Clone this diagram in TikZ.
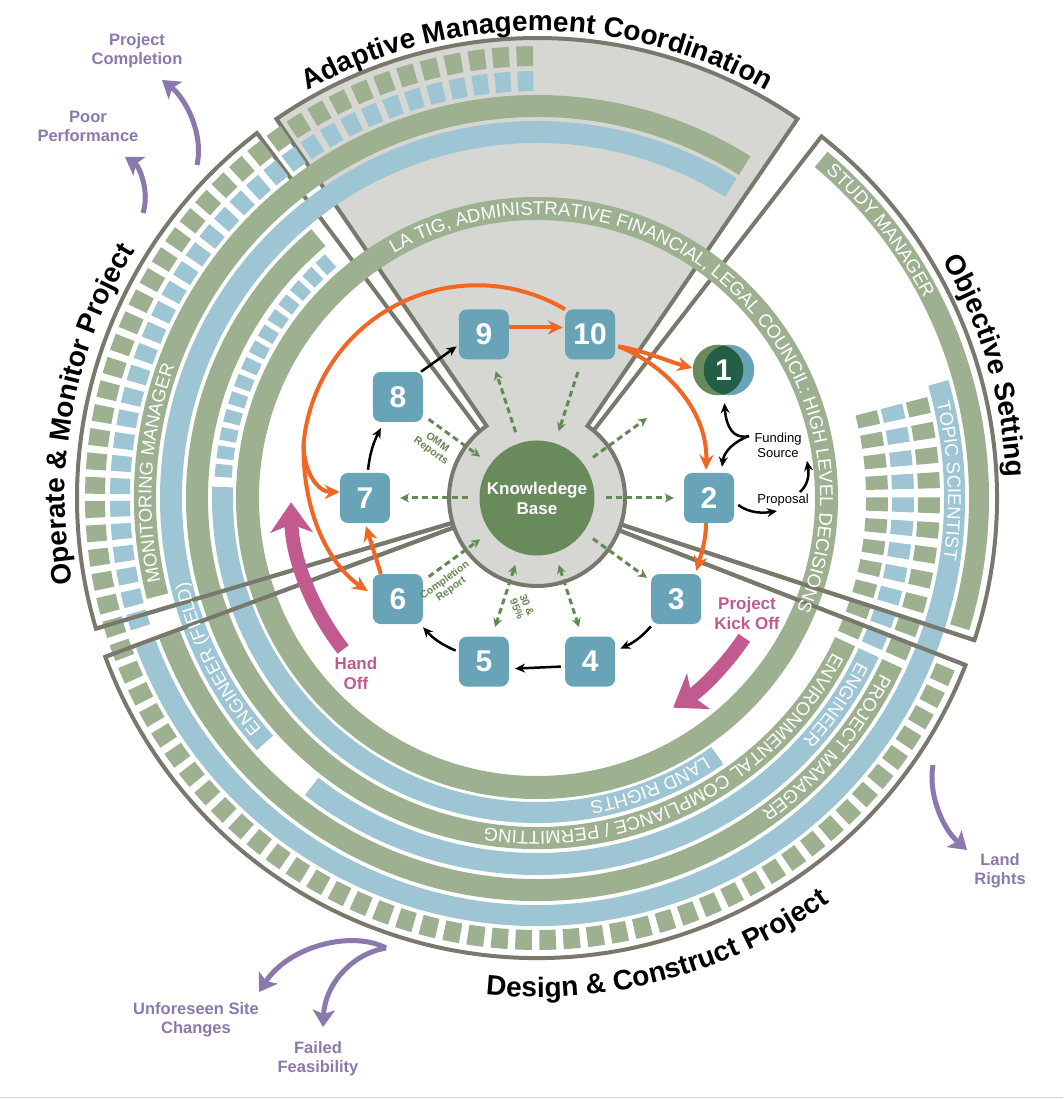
\documentclass[tikz,border=0pt]{standalone}
\usepackage{fontspec}
\setmainfont{Liberation Sans}
\setsansfont{Liberation Sans}
\usetikzlibrary{arrows.meta,decorations.text}
\definecolor{bgreen}{RGB}{157,177,145}
\definecolor{bblue}{RGB}{158,197,211}
\definecolor{hubgray}{RGB}{214,215,210}
\definecolor{bordergray}{RGB}{120,121,108}
\definecolor{nodeblue}{RGB}{104,163,183}
\definecolor{kbgreen}{RGB}{105,138,90}
\definecolor{lensgreen}{RGB}{36,94,70}
\definecolor{orng}{RGB}{242,101,34}
\definecolor{pnk}{RGB}{193,90,142}
\definecolor{prpl}{RGB}{139,121,173}
\definecolor{dgreen}{RGB}{98,138,82}
\newcommand\myband[5]{\fill[#1] (#4:#2) arc[start angle=#4, end angle=#5, radius=#2 pt] -- (#5:#3) arc[start angle=#5, end angle=#4, radius=#3 pt] -- cycle;}
\newcommand\ringtext[5]{\path[decorate, decoration={text along path, text={|\fontsize{18.5}{18.5}\selectfont|#4}, text align=#5, text color=white}] (#2:#1) arc[start angle=#2, end angle=#3, radius=#1 pt];}
\newcommand\titletext[4]{\path[decorate, decoration={text along path, text={|\bfseries\fontsize{28}{28}\selectfont|#4}, text align=center}] (#2:#1) arc[start angle=#2, end angle=#3, radius=#1 pt];}
\tikzset{
 stepnode/.style={rectangle, rounded corners=8pt, fill=nodeblue, minimum width=50pt, minimum height=50pt, inner sep=0pt, text=white, font=\bfseries\fontsize{30}{30}\selectfont},
 secline/.style={draw=bordergray, line width=4pt, line join=miter},
 orarrow/.style={draw=orng, line width=4pt, -{Stealth[length=15pt,width=14pt]}},
 orline/.style={draw=orng, line width=4pt},
 blarrow/.style={draw=black, line width=2.5pt, -{Stealth[length=10pt,width=9pt]}},
 dsharrow/.style={draw=dgreen, line width=3pt, dash pattern=on 6pt off 4pt, -{Stealth[length=9pt,width=9pt]}},
 dsharrowtwo/.style={dsharrow, {Stealth[length=9pt,width=9pt]}-{Stealth[length=9pt,width=9pt]}},
 pkarrow/.style={draw=pnk, line width=14pt, -{Stealth[length=30pt,width=42pt,inset=8pt]}},
 prarrow/.style={draw=prpl, line width=5pt, -{Stealth[length=17pt,width=22pt,inset=4pt]}},
 dlabel/.style={font=\bfseries\fontsize{10.5}{11}\selectfont, text=dgreen, align=center, inner sep=0pt},
 pklabel/.style={font=\bfseries\fontsize{17}{20}\selectfont, text=pnk, align=center, inner sep=0pt},
 prlabel/.style={font=\bfseries\fontsize{16.5}{19}\selectfont, text=prpl, align=center, inner sep=0pt},
 smalllabel/.style={font=\fontsize{13}{15}\selectfont, align=center, inner sep=0pt}
}
\begin{document}
\begin{tikzpicture}[x=1pt,y=1pt]
\useasboundingbox (-537,-601) rectangle (526,498);
\fill[white] (-537,-601) rectangle (526,498);
\draw[gray!35, line width=1.5pt] (-537,-599.5) -- (526,-599.5);
% Adaptive wedge with hub
\path[fill=hubgray, draw=bordergray, line width=4pt, line join=miter]
 (125:88) -- (124.5:460) arc[start angle=124.5, end angle=55.5, radius=460pt] -- (55:88) arc[start angle=55, end angle=-235, radius=88pt] -- cycle;
% other sectors
\draw[secline] (50:88) -- (51.8:460) arc[start angle=51.8, end angle=-18, radius=460pt] -- (-17.5:88);
\draw[secline] (-21.5:88) -- (-21.3:460) arc[start angle=-21.3, end angle=-159.8, radius=460pt] -- (-160.5:88);
\draw[secline] (196.4:88) -- (196.5:460) arc[start angle=196.5, end angle=127.5, radius=460pt] -- (130.5:88);
% rings
\fill[bgreen, even odd rule] (0,0) circle[radius=301pt] circle[radius=278pt];
\myband{bblue}{304}{325}{178}{305}
\myband{bgreen}{329}{351}{130}{335}
\myband{bblue}{355}{377}{58}{222}
\myband{bblue}{355}{377}{232}{335}
\myband{bgreen}{381}{403}{58}{194.5}
\myband{bgreen}{381}{403}{200.5}{335}
\myband{bblue}{407}{428}{200.5}{376}
\myband{bgreen}{432}{452}{-17}{50}
% tiles
\foreach \i in {0,...,79}{\pgfmathsetmacro\a{90.5+3.1*\i}\pgfmathsetmacro\b{\a+2.15}\myband{bgreen}{432}{452}{\a}{\b}}
\foreach \i in {0,...,34}{\pgfmathsetmacro\a{90.5+3.1*\i}\pgfmathsetmacro\b{\a+2.15}\myband{bblue}{407}{427}{\a}{\b}}
\foreach \i in {0,...,13}{\pgfmathsetmacro\a{131+3.3*\i}\pgfmathsetmacro\b{\a+2.3}\myband{bblue}{306}{323}{\a}{\b}}
\foreach \j in {0,...,10}{\pgfmathsetmacro\a{14.5-3.6*\j}\pgfmathsetmacro\b{\a-2.3}%
 \myband{bgreen}{329}{351}{\b}{\a}\myband{bblue}{355}{377}{\b}{\a}\myband{bgreen}{381}{403}{\b}{\a}}
% lower boundary lines over rings
\draw[secline] (-17.5:88) -- (-18:460);
\draw[secline] (-21.5:88) -- (-21.3:460);
\draw[secline] (-160.5:88) -- (-159.8:460);
\draw[secline] (196.4:88) -- (196.5:460);
% ring labels
\ringtext{283}{170}{-73}{LA TIG, ADMINISTRATIVE FINANCIAL, LEGAL COUNCIL: HIGH LEVEL DECISIONS}{center}
\ringtext{435.5}{48.5}{-15}{STUDY MANAGER}{left}
\ringtext{411}{13.5}{-40}{TOPIC SCIENTIST}{left}
\ringtext{385.5}{192.5}{120}{MONITORING MANAGER}{left}
\ringtext{359.5}{220}{160}{ENGINEER (FIELD)}{left}
\ringtext{308}{-57}{-120}{LAND RIGHTS}{left}
\ringtext{333.5}{-27.5}{-140}{ENVIRONMENTAL COMPLIANCE / PERMITTING}{left}
\ringtext{359.5}{-27}{-80}{ENGINEER}{left}
\ringtext{385.5}{-27}{-90}{PROJECT MANAGER}{left}
% titles
\titletext{467}{130}{50}{Adaptive Management Coordination}
\titletext{470}{50}{-17.2}{Objective Setting}
\titletext{472}{205}{133.8}{Operate {\&} Monitor Project}
\titletext{499}{250}{320}{Design {\&} Construct Project}
% knowledge base
\node[circle, fill=kbgreen, minimum size=115pt, inner sep=0pt, text=white, align=center, font=\bfseries\fontsize{17}{20}\selectfont] (kb) at (0,0) {Knowledege\\Base};
% nodes
\node[stepnode] (n2) at (0:172) {2};
\node[stepnode] (n3) at (-36:172) {3};
\node[stepnode] (n4) at (-72:172) {4};
\node[stepnode] (n5) at (-108:172) {5};
\node[stepnode] (n6) at (-144:172) {6};
\node[stepnode] (n7) at (180:172) {7};
\node[stepnode] (n8) at (144:172) {8};
\node[stepnode] (n9) at (108:172) {9};
\node[stepnode] (n10) at (72:172) {10};
\fill[kbgreen] (181,128) circle[radius=25.3pt];
\fill[nodeblue] (192,128) circle[radius=25.3pt];
\begin{scope}
\clip (181,128) circle[radius=25.3pt];
\fill[lensgreen] (192,128) circle[radius=25.3pt];
\end{scope}
\node[circle, minimum size=50pt, inner sep=0pt, text=white, font=\bfseries\fontsize{30}{30}\selectfont] (n1) at (186.5,128) {1};
% dashed knowledge arrows
\coordinate (ur) at (36:136);
\draw[dsharrow, shorten <=11.5pt, shorten >=10pt] (kb) -- (n7);
\draw[dsharrow, shorten <=11.5pt, shorten >=10pt] (kb) -- (n2);
\draw[dsharrow, shorten <=11.5pt, shorten >=12pt] (kb) -- (n9);
\draw[dsharrow, shorten <=13pt, shorten >=12.5pt] (n10) -- (kb);
\draw[dsharrow, shorten <=7pt, shorten >=12.5pt] (n8) -- (kb);
\draw[dsharrow, shorten <=11.5pt] (kb) -- (ur);
\draw[dsharrow, shorten <=11.5pt, shorten >=5pt] (kb) -- (n3);
\draw[dsharrow, shorten <=7pt, shorten >=12.5pt] (n6) -- (kb);
\draw[dsharrowtwo, shorten <=12.5pt, shorten >=9.7pt] (kb) -- (n5);
\draw[dsharrowtwo, shorten <=12.5pt, shorten >=9.7pt] (kb) -- (n4);
\node[dlabel, rotate=-36] at (-103,51) {OMM\\Reports};
\node[dlabel, rotate=36] at (-89,-87) {Completion\\Report};
\node[dlabel, rotate=-67] at (-15,-109) {30 \&\\95\%};
% orange arrows
\draw[orarrow] ([yshift=7pt]n9.east) -- ([yshift=7pt,xshift=-2pt]n10.west);
\draw[orarrow] ([xshift=3pt,yshift=-12pt]n10.east) .. controls +(25,-4) and +(-22,6) .. ([xshift=-6pt,yshift=2pt]n1.west);
\draw[orarrow] ([xshift=3pt,yshift=-12pt]n10.east) .. controls (125,135) and (171,90) .. ([xshift=-3pt,yshift=3pt]n2.north);
\draw[orarrow] ([xshift=-3pt]n2.south) .. controls +(0,-18) and +(4,14) .. ([xshift=-5pt,yshift=3pt]n3.north east);
\draw[orarrow] ([xshift=-17pt]n6.north) -- ([xshift=1pt,yshift=-3pt]n7.south);
\draw[orline] (n10.north west) arc[start angle=59.6, end angle=175, radius=174pt] coordinate (split);
\draw[orarrow] (split) .. controls +(0,-28) and +(-22,0) .. ([yshift=6pt]n7.west);
\draw[orarrow] (split) .. controls +(-1,-70) and +(-38,26) .. ([xshift=-5pt,yshift=8pt]n6.west);
% black arrows
\draw[blarrow] ([yshift=-2pt]n3.south west) to[bend left=12] ([xshift=5pt,yshift=13pt]n4.east);
\draw[blarrow] ([xshift=-4pt,yshift=-5pt]n4.west) -- ([xshift=6pt,yshift=-7pt]n5.east);
\draw[blarrow] ([xshift=-3pt,yshift=11pt]n5.west) to[bend left=12] ([yshift=-3pt]n6.south east);
\draw[blarrow] ([xshift=3pt,yshift=3pt]n7.north) to[bend left=10] ([xshift=-17pt,yshift=-6pt]n8.south);
\draw[blarrow] ([xshift=-2pt]n8.north east) -- ([xshift=-2pt,yshift=-12pt]n9.west);
\node[smalllabel] (fund) at (241,53) {Funding\\Source};
\node[smalllabel] (prop) at (246,-2) {Proposal};
\coordinate (fs) at (212,62);
\draw[blarrow] (fs) .. controls (196,58) and (189,72) .. ([xshift=1pt,yshift=-8pt]n1.south);
\draw[blarrow] (fs) .. controls (196,56) and (187,46) .. ([xshift=13pt,yshift=6pt]n2.north);
\coordinate (propin) at (240,-13);
\coordinate (propout) at (263,6);
\coordinate (srcin) at (270,37);
\draw[blarrow] ([xshift=4pt,yshift=-7pt]n2.east) .. controls +(12,-9) and +(-12,-2) .. (propin);
\draw[blarrow] (propout) .. controls (272,14) and (272,25) .. (srcin);
% pink arrows
\draw[pkarrow] (218:246) arc[start angle=218, end angle=181, radius=246pt];
\draw[pkarrow] (-34:250) arc[start angle=-34, end angle=-57, radius=250pt];
\node[pklabel] at (210,-115) {Project\\Kick Off};
\node[pklabel] at (-181,-175) {Hand\\Off};
% purple arrows
\coordinate (pc0) at (-340,333); \coordinate (pc1) at (-375,418);
\coordinate (pp0) at (-394,285); \coordinate (pp1) at (-412,341);
\coordinate (lr0) at (396,-267); \coordinate (lr1) at (430,-352);
\coordinate (uf0) at (-151,-450); \coordinate (uf1) at (-278,-494); \coordinate (ff1) at (-214,-529);
\draw[prarrow] (pc0) .. controls (-333,365) and (-352,400) .. (pc1);
\draw[prarrow] (pp0) .. controls (-387,307) and (-398,332) .. (pp1);
\draw[prarrow] (lr0) .. controls (391,-295) and (405,-330) .. (lr1);
\draw[prarrow] (uf0) .. controls (-185,-432) and (-248,-448) .. (uf1);
\draw[prarrow] (uf0) .. controls (-186,-456) and (-212,-487) .. (ff1);
\node[prlabel] at (-400,447) {Project\\Completion};
\node[prlabel] at (-449,372) {Poor\\Performance};
\node[prlabel] at (463,-373) {Land\\Rights};
\node[prlabel] at (-341,-522) {Unforeseen Site\\Changes};
\node[prlabel] at (-219,-561) {Failed\\Feasibility};
\end{tikzpicture}
\end{document}
